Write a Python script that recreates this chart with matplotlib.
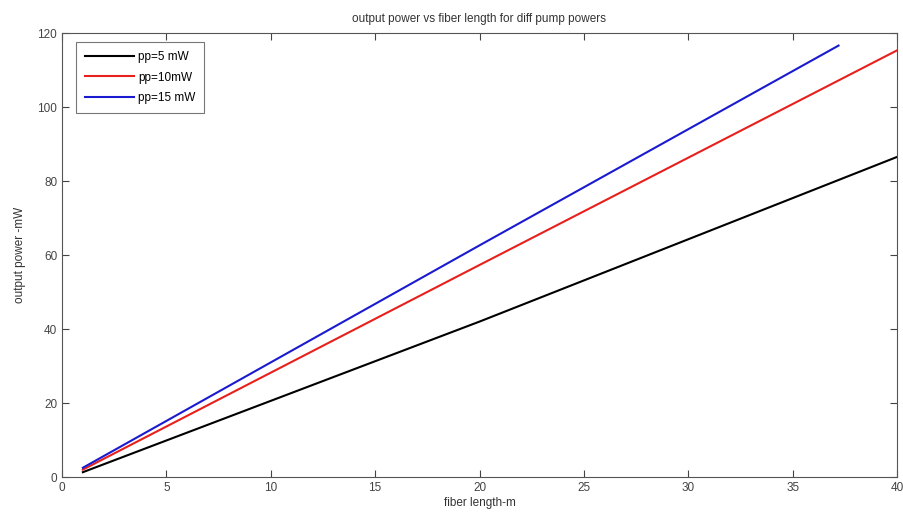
import matplotlib
matplotlib.use("Agg")
import matplotlib.pyplot as plt

plt.rcParams["font.family"] = ["Liberation Sans Narrow", "Liberation Sans", "DejaVu Sans"]

# fiber length (m) and output power (mW)
len_5 = [1, 20, 40]
pow_5 = [1.3, 42.0, 86.5]
len_10 = [1, 20, 40]
pow_10 = [2.0, 57.3, 115.3]
len_15 = [1, 20, 37.2]
pow_15 = [2.5, 62.6, 116.6]
labels = ["pp=5 mW", "pp=10mW", "pp=15 mW"]

fig = plt.figure(figsize=(9.04, 5.22), dpi=100)
ax = fig.add_axes([62/904, 1-477/522, (897-62)/904, (477-33)/522])

ax.plot(len_5, pow_5, color="black", lw=1.5, label=labels[0])
ax.plot(len_10, pow_10, color="#e8201c", lw=1.5, label=labels[1])
ax.plot(len_15, pow_15, color="#1a1ad0", lw=1.5, label=labels[2])

ax.set_xlim(0, 40)
ax.set_ylim(0, 120)
ax.set_xticks(range(0, 41, 5))
ax.set_yticks(range(0, 121, 20))
ax.tick_params(direction="in", top=True, right=True, labelsize=8.5, length=5, colors="#444444")
for s in ax.spines.values():
    s.set_color("#555555")

ax.set_title("output power vs fiber length for diff pump powers", fontsize=8.5, color="#333333", pad=8)
ax.set_xlabel("fiber length-m", fontsize=8.5, color="#333333", labelpad=2)
ax.set_ylabel("output power -mW", fontsize=8.5, color="#333333", labelpad=8)

leg = ax.legend(loc="upper left", fontsize=8.5, fancybox=False, edgecolor="#555555",
                handlelength=4.2, borderpad=0.75, labelspacing=0.75, handletextpad=0.3,
                borderaxespad=0, bbox_to_anchor=(0.0168, 0.98))
leg.get_frame().set_linewidth(0.8)

fig.savefig("out.png", dpi=100)
